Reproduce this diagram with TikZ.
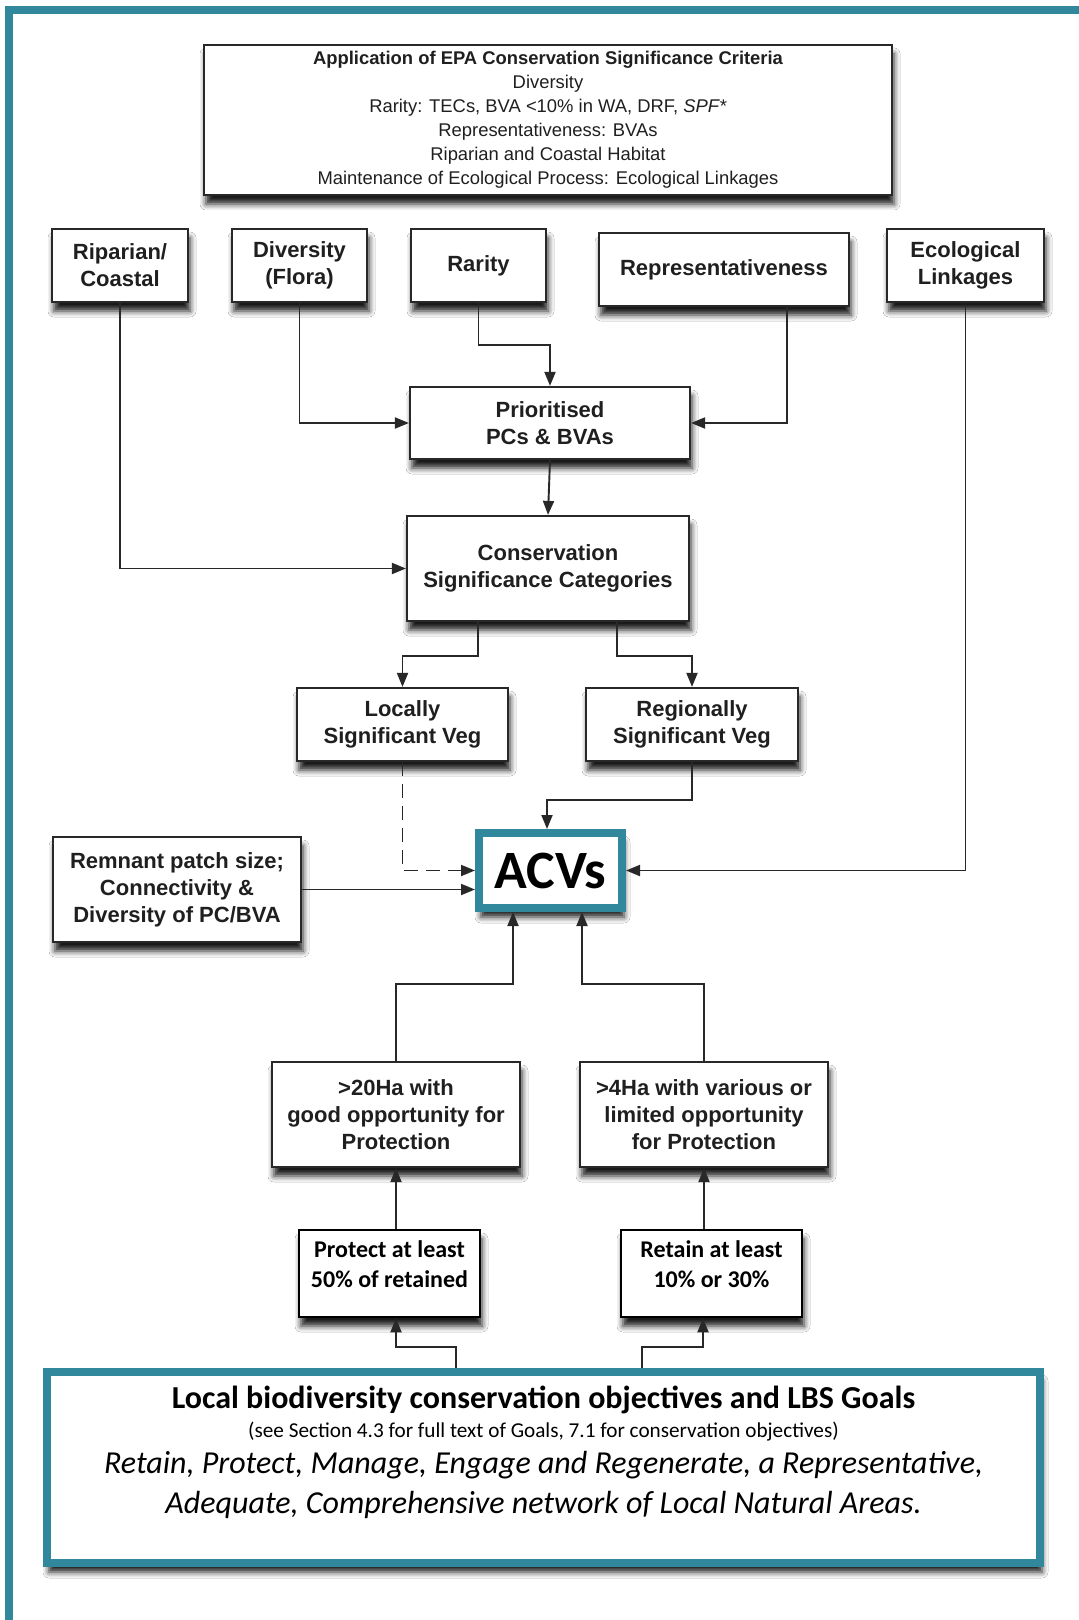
\documentclass[tikz,border=0pt]{standalone}
\usepackage{fontspec}
\setmainfont{Liberation Sans}
\newfontfamily\calfont{Carlito}
\usetikzlibrary{arrows.meta,shadows.blur,calc}
\definecolor{tealA}{RGB}{49,135,155}
\definecolor{lin}{RGB}{40,40,40}
\begin{document}
\begin{tikzpicture}[x=0.5pt,y=-0.5pt,
  shad/.style={blur shadow={shadow xshift=1pt,shadow yshift=-4.5pt,shadow blur radius=3pt,shadow opacity=90}},
  box/.style={draw=lin,line width=1.1pt,fill=white,shad,align=center,inner sep=0pt,
    font=\fontsize{11}{13.5}\selectfont\bfseries,text=black!88},
  tealbox/.style={draw=tealA,line width=4pt,fill=white,shad,inner sep=0pt},
  arr/.style={draw=lin,line width=0.95pt,-{Triangle[length=7pt,width=5.5pt]}},
  calb/.style={font=\calfont\bfseries\fontsize{12}{15}\selectfont,align=center,inner sep=0pt}
]
\useasboundingbox (0,0) rectangle (1079,1620);
\fill[white] (0,0) rectangle (1079,1620);
% frame
\fill[tealA] (5,6) rectangle (1079,14);
\fill[tealA] (5,6) rectangle (13,1620);

% top criteria box
\node[box,minimum width=344pt,minimum height=75pt,font=\fontsize{9.2}{12}\selectfont] (top) at (548,120)
 {{\bfseries Application of EPA Conservation Significance Criteria}\\Diversity\\Rarity: TECs, BVA <10\% in WA, DRF, \textit{SPF*}\\Representativeness: BVAs\\Riparian and Coastal Habitat\\Maintenance of Ecological Process: Ecological Linkages};

% criteria row
\node[box,minimum width=68pt,minimum height=36.5pt] (rip) at (120,265.5) {Riparian/\\Coastal};
\node[box,minimum width=67.5pt,minimum height=36.5pt] (div) at (299.5,265.5) {Diversity\\(Flora)};
\node[box,minimum width=67.5pt,minimum height=36.5pt] (rar) at (478.5,265.5) {Rarity};
\node[box,minimum width=125pt,minimum height=36.5pt] (rep) at (724,269.5) {Representativeness};
\node[box,minimum width=78.5pt,minimum height=36.5pt] (eco) at (965.5,265.5) {Ecological\\Linkages};

\node[box,minimum width=140pt,minimum height=36pt] (pri) at (550,423) {Prioritised\\PCs \& BVAs};
\node[box,minimum width=141pt,minimum height=52.5pt] (csc) at (548,568.5) {Conservation\\Significance Categories};
\node[box,minimum width=105.5pt,minimum height=36.5pt] (loc) at (402.5,724.5) {Locally\\Significant Veg};
\node[box,minimum width=106pt,minimum height=36.5pt] (reg) at (692,724.5) {Regionally\\Significant Veg};

\node[tealbox,minimum width=71.5pt,minimum height=37.5pt,font=\calfont\bfseries\fontsize{27}{31}\selectfont] (acv) at (550.5,870.5) {ACVs};
\node[box,minimum width=124pt,minimum height=52.5pt] (rem) at (177,889.5) {Remnant patch size;\\Connectivity \&\\Diversity of PC/BVA};

\node[box,minimum width=124pt,minimum height=52.5pt] (h20) at (396,1114.5) {>20Ha with\\good opportunity for\\Protection};
\node[box,minimum width=124pt,minimum height=52.5pt] (h4) at (704,1114.5) {>4Ha with various or\\limited opportunity\\for Protection};

\node[box,draw=black,line width=1.3pt,minimum width=90.5pt,minimum height=43.5pt] (pro) at (389.5,1273.5) {};
\node[calb] (protxt) at (389.5,1264) {Protect at least\\50\% of retained};
\node[box,draw=black,line width=1.3pt,minimum width=90.5pt,minimum height=43.5pt] (ret) at (711.5,1273.5) {};
\node[calb] (rettxt) at (711.5,1264) {Retain at least\\10\% or 30\%};

\node[tealbox,minimum width=496.5pt,minimum height=95.5pt] (goals) at (543.5,1467.5) {};
\node[anchor=base,inner sep=0pt,font=\calfont\bfseries\fontsize{16}{19}\selectfont] (g1) at (543.5,1408) {Local biodiversity conservation objectives and LBS Goals};
\node[anchor=base,inner sep=0pt,font=\calfont\fontsize{10.6}{12}\selectfont] (g2) at (543.5,1437) {(see Section 4.3 for full text of Goals, 7.1 for conservation objectives)};
\node[anchor=base,inner sep=0pt,font=\calfont\itshape\fontsize{16}{19}\selectfont] (g3) at (543.5,1473) {Retain, Protect, Manage, Engage and Regenerate, a Representative,};
\node[anchor=base,inner sep=0pt,font=\calfont\itshape\fontsize{16}{19}\selectfont] (g4) at (543.5,1513) {Adequate, Comprehensive network of Local Natural Areas.};

% connectors
\draw[arr] (rip.south) |- (csc.west);
\draw[arr] (div.south) |- (pri.west);
\draw[arr] (rar.south) -- ++(0,42) -| (pri.north);
\draw[arr] ([xshift=31.5pt]rep.south) |- (pri.east);
\draw[arr] (pri.south) -- (csc.north);
\draw[arr] (eco.south) |- (acv.east);
\draw[arr] ([xshift=-35pt]csc.south) -- ++(0,34) -| (loc.north);
\draw[arr] ([xshift=34.5pt]csc.south) -- ++(0,34) -| (reg.north);
\draw[arr,dash pattern=on 7pt off 4pt] (loc.south) |- (acv.west);
\draw[arr] (reg.south) -- ++(0,38) -| ([xshift=-1.75pt]acv.north);
\draw[arr] (rem.east) -- (rem.east -| acv.west);
\draw[arr] (h20.north) -- ++(0,-77) -| ([xshift=-18.75pt]acv.south);
\draw[arr] (h4.north) -- ++(0,-77) -| ([xshift=15.75pt]acv.south);
\draw[arr] (pro.north -| h20.south) -- (h20.south);
\draw[arr] (ret.north -| h4.south) -- (h4.south);
\draw[arr] ([xshift=-43.75pt]goals.north) -- ++(0,-21) -| ([xshift=3.25pt]pro.south);
\draw[arr] ([xshift=49.25pt]goals.north) -- ++(0,-21) -| ([xshift=-4.25pt]ret.south);
\end{tikzpicture}
\end{document}
